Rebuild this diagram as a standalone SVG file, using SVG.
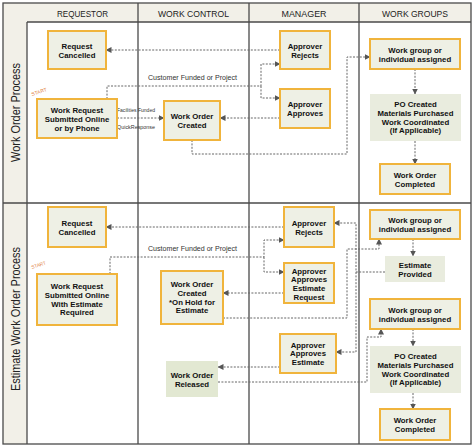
<svg xmlns="http://www.w3.org/2000/svg" width="474" height="448" viewBox="0 0 474 448">
<style>
.frame{fill:none;stroke:#4a4a4a;stroke-width:1.3}
.band{fill:#f2f0e8}
.hdr{font-family:"Liberation Sans",Arial,sans-serif;font-size:9.5px;fill:#222;text-anchor:middle}
.side{font-family:"Liberation Sans",Arial,sans-serif;font-size:12.5px;fill:#222;text-anchor:middle}
.box{fill:#eef0e5;stroke:#f0b43c;stroke-width:2}
.plain{fill:#e9ecde;stroke:none}
.rel{fill:#e2e8d2;stroke:none}
.nt{font-family:"Liberation Sans",Arial,sans-serif;font-size:7.8px;font-weight:bold;fill:#111;text-anchor:middle}
.lbl{font-family:"Liberation Sans",Arial,sans-serif;font-size:7.5px;fill:#333}
.tiny{font-family:"Liberation Sans",Arial,sans-serif;font-size:5.5px;fill:#333}
.start{font-family:"Liberation Sans",Arial,sans-serif;font-size:5px;fill:#e07b39}
.c{fill:none;stroke:#666;stroke-width:1;stroke-dasharray:2 1.4}
</style>
<defs>
<marker id="ah" markerUnits="userSpaceOnUse" markerWidth="6" markerHeight="6" refX="5.5" refY="3" orient="auto">
<path d="M0,0 L6,3 L0,6 z" fill="#555"/>
</marker>
</defs>
<rect x="0" y="0" width="474" height="448" fill="#fff"/>
<g id="lanes">
<rect class="band" x="3" y="3" width="468" height="19"/>
<rect class="band" x="3" y="22" width="24" height="422"/>
<rect class="frame" x="3" y="3" width="468" height="441"/>
<line class="frame" x1="27" y1="22" x2="471" y2="22"/>
<line class="frame" x1="27" y1="22" x2="27" y2="444"/>
<line class="frame" x1="3" y1="203" x2="471" y2="203"/>
<line class="frame" x1="138" y1="3" x2="138" y2="444"/>
<line class="frame" x1="249" y1="3" x2="249" y2="444"/>
<line class="frame" x1="359" y1="3" x2="359" y2="444"/>
<text class="hdr" x="82.5" y="17" textLength="51" lengthAdjust="spacingAndGlyphs">REQUESTOR</text>
<text class="hdr" x="193.5" y="17" textLength="71" lengthAdjust="spacingAndGlyphs">WORK CONTROL</text>
<text class="hdr" x="304" y="17" textLength="45" lengthAdjust="spacingAndGlyphs">MANAGER</text>
<text class="hdr" x="415" y="17" textLength="66" lengthAdjust="spacingAndGlyphs">WORK GROUPS</text>
<text class="side" transform="translate(19.5,112.5) rotate(-90)" textLength="99" lengthAdjust="spacingAndGlyphs">Work Order Process</text>
<text class="side" transform="translate(19.5,319) rotate(-90)" textLength="144" lengthAdjust="spacingAndGlyphs">Estimate Work Order Process</text>
</g>
<g id="connectors">
<path class="c" marker-end="url(#ah)" d="M280,50 H106"/>
<path class="c" marker-end="url(#ah)" d="M107,99 V86 H261 V64 H280"/>
<path class="c" marker-end="url(#ah)" d="M261,86 V98 H280"/>
<path class="c" marker-end="url(#ah)" d="M117,118 H164"/>
<path class="c" marker-end="url(#ah)" d="M280,118 H220"/>
<path class="c" marker-end="url(#ah)" d="M192,140 V154 H347 V57 H370"/>
<path class="c" marker-end="url(#ah)" d="M415,69 V94"/>
<path class="c" marker-end="url(#ah)" d="M415,141 V164"/>
<path class="c" marker-end="url(#ah)" d="M284,227 H106"/>
<path class="c" marker-end="url(#ah)" d="M110,274 V257 H264 V240 H284"/>
<path class="c" marker-end="url(#ah)" d="M264,257 V272 H284"/>
<path class="c" marker-end="url(#ah)" d="M284,293 H223"/>
<path class="c" marker-end="url(#ah)" d="M223,318 H347 V249 H379 V239"/>
<path class="c" marker-end="url(#ah)" d="M413,239 V256"/>
<path class="c" marker-end="url(#ah)" d="M385,272 H356 V223 H334"/>
<path class="c" marker-end="url(#ah)" d="M356,272 V352 H336"/>
<path class="c" marker-end="url(#ah)" d="M280,367 H218"/>
<path class="c" marker-end="url(#ah)" d="M218,382 H367 V337 H381 V329"/>
<path class="c" marker-end="url(#ah)" d="M413,329 V346"/>
<path class="c" marker-end="url(#ah)" d="M413,393 V409"/>
<text class="lbl" x="148" y="80" textLength="89" lengthAdjust="spacingAndGlyphs">Customer Funded or Project</text>
<text class="lbl" x="148" y="251" textLength="89" lengthAdjust="spacingAndGlyphs">Customer Funded or Project</text>
<text class="tiny" x="117" y="112" textLength="38" lengthAdjust="spacingAndGlyphs">Facilities Funded</text>
<text class="tiny" x="117" y="129" textLength="38" lengthAdjust="spacingAndGlyphs">QuickResponse</text>
<text class="start" transform="translate(32,96) rotate(-18)" textLength="16" lengthAdjust="spacingAndGlyphs">START</text>
<text class="start" transform="translate(32,269) rotate(-18)" textLength="15" lengthAdjust="spacingAndGlyphs">START</text>
</g>
<g id="n1-cancel"><rect class="box" x="48" y="31" width="58" height="38"/><text class="nt" x="77" y="48.5">Request</text><text class="nt" x="77" y="57.5">Cancelled</text></g>
<g id="n1-request"><rect class="box" x="37" y="99" width="80" height="39"/><text class="nt" x="77" y="112.5">Work Request</text><text class="nt" x="77" y="121.5">Submitted Online</text><text class="nt" x="77" y="130.5">or by Phone</text></g>
<g id="n1-created"><rect class="box" x="164" y="101" width="56" height="39"/><text class="nt" x="192" y="119">Work Order</text><text class="nt" x="192" y="128">Created</text></g>
<g id="n1-rejects"><rect class="box" x="280" y="31" width="50" height="38"/><text class="nt" x="305" y="48.5">Approver</text><text class="nt" x="305" y="57.5">Rejects</text></g>
<g id="n1-approves"><rect class="box" x="280" y="89" width="50" height="39"/><text class="nt" x="305" y="107">Approver</text><text class="nt" x="305" y="116">Approves</text></g>
<g id="n1-assigned"><rect class="box" x="370" y="39" width="90" height="30"/><text class="nt" x="415" y="52.5">Work group or</text><text class="nt" x="415" y="61.5">individual assigned</text></g>
<g id="n1-po"><rect class="plain" x="370" y="94" width="91" height="47"/><text class="nt" x="415.5" y="107">PO Created</text><text class="nt" x="415.5" y="115.8">Materials Purchased</text><text class="nt" x="415.5" y="124.6">Work Coordinated</text><text class="nt" x="415.5" y="133.4">(If Applicable)</text></g>
<g id="n1-completed"><rect class="box" x="380" y="164" width="70" height="30"/><text class="nt" x="415" y="177.5">Work Order</text><text class="nt" x="415" y="186.5">Completed</text></g>
<g id="n2-cancel"><rect class="box" x="48" y="207" width="58" height="40"/><text class="nt" x="77" y="225.5">Request</text><text class="nt" x="77" y="234.5">Cancelled</text></g>
<g id="n2-request"><rect class="box" x="37" y="274" width="80" height="51"/><text class="nt" x="77" y="289">Work Request</text><text class="nt" x="77" y="297.8">Submitted Online</text><text class="nt" x="77" y="306.6">With Estimate</text><text class="nt" x="77" y="315.4">Required</text></g>
<g id="n2-created"><rect class="box" x="161" y="271" width="62" height="53"/><text class="nt" x="192" y="287">Work Order</text><text class="nt" x="192" y="295.8">Created</text><text class="nt" x="192" y="304.6">*On Hold for</text><text class="nt" x="192" y="313.4">Estimate</text></g>
<g id="n2-released"><rect class="rel" x="166" y="361" width="52" height="36"/><text class="nt" x="192" y="377.5">Work Order</text><text class="nt" x="192" y="386.5">Released</text></g>
<g id="n2-rejects"><rect class="box" x="284" y="207" width="50" height="40"/><text class="nt" x="309" y="225.5">Approver</text><text class="nt" x="309" y="234.5">Rejects</text></g>
<g id="n2-approves-req"><rect class="box" x="284" y="263" width="50" height="40"/><text class="nt" x="309" y="273.5">Approver</text><text class="nt" x="309" y="282.3">Approves</text><text class="nt" x="309" y="291.1">Estimate</text><text class="nt" x="309" y="299.9">Request</text></g>
<g id="n2-approves-est"><rect class="box" x="280" y="334" width="56" height="39"/><text class="nt" x="308" y="347.5">Approver</text><text class="nt" x="308" y="356.3">Approves</text><text class="nt" x="308" y="365.1">Estimate</text></g>
<g id="n2-assigned1"><rect class="box" x="370" y="210" width="90" height="29"/><text class="nt" x="415" y="223">Work group or</text><text class="nt" x="415" y="232">individual assigned</text></g>
<g id="n2-estimate"><rect class="plain" x="385" y="256" width="60" height="26"/><text class="nt" x="415" y="267.5">Estimate</text><text class="nt" x="415" y="276.5">Provided</text></g>
<g id="n2-assigned2"><rect class="box" x="370" y="299" width="90" height="30"/><text class="nt" x="415" y="312.5">Work group or</text><text class="nt" x="415" y="321.5">individual assigned</text></g>
<g id="n2-po"><rect class="plain" x="370" y="346" width="91" height="47"/><text class="nt" x="415.5" y="359">PO Created</text><text class="nt" x="415.5" y="367.8">Materials Purchased</text><text class="nt" x="415.5" y="376.6">Work Coordinated</text><text class="nt" x="415.5" y="385.4">(If Applicable)</text></g>
<g id="n2-completed"><rect class="box" x="380" y="409" width="70" height="31"/><text class="nt" x="415" y="423">Work Order</text><text class="nt" x="415" y="432">Completed</text></g>
</svg>
